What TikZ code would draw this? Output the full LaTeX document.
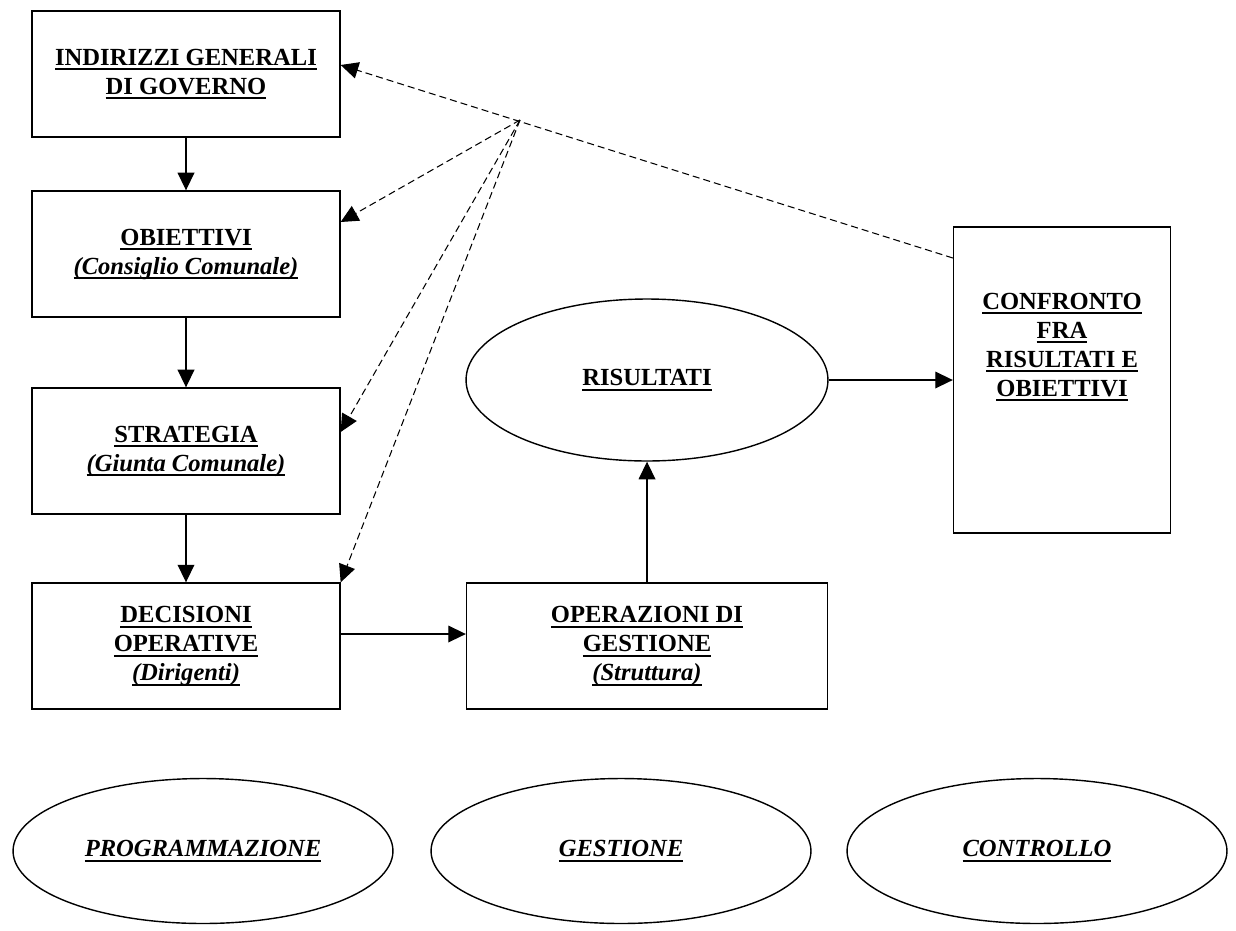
\documentclass[tikz,border=0pt]{standalone}
\usepackage{fontspec}
\setmainfont{Liberation Serif}
\usetikzlibrary{arrows.meta,shapes.geometric}

\newcommand{\titfont}{\fontsize{14}{16.5}\selectfont\bfseries}
\newsavebox{\sottbox}
\newcommand{\sott}[1]{\sbox{\sottbox}{#1}\rlap{\rule[-3pt]{\wd\sottbox}{1.2pt}}\usebox{\sottbox}}

\tikzset{
  box/.style={draw, line width=0.8pt, minimum width=6.16cm, minimum height=2.52cm, align=center, font=\titfont},
  ovale/.style={draw, ellipse, inner sep=0pt, line width=0.8pt, align=center, font=\titfont},
  fase/.style={ovale, minimum width=7.6cm, minimum height=2.9cm, font=\titfont\itshape},
  titolo/.style={align=center, font=\titfont},
  freccia/.style={->, line width=0.7pt},
  ritorno/.style={->, line width=0.6pt, dash pattern=on 4pt off 2.3pt}
}

\begin{document}
\begin{tikzpicture}[x=0.02cm, y=-0.02cm, >={Triangle[length=10pt,width=9.5pt]}]
	\useasboundingbox (0,0) rectangle (1236,930);
	% programmazione
	\node[box] (indirizzi) at (186,74) {\sott{INDIRIZZI GENERALI}\\\sott{DI GOVERNO}};
	\node[box] (obiettivi) at (186,254) {\sott{OBIETTIVI}\\\sott{\itshape (Consiglio Comunale)}};
	\node[box] (strategia) at (186,451) {\sott{STRATEGIA}\\\sott{\itshape (Giunta Comunale)}};
	\node[box] (decisioni) at (186,646) {\sott{DECISIONI}\\\sott{OPERATIVE}\\\sott{\itshape (Dirigenti)}};
	% gestione e controllo
	\node[box, minimum width=7.22cm] (operazioni) at (647,646) {\sott{OPERAZIONI DI}\\\sott{GESTIONE}\\\sott{\itshape (Struttura)}};
	\node[ovale, minimum width=7.24cm, minimum height=3.24cm] (risultati) at (647,380) {\sott{RISULTATI}};
	\node[box, minimum width=4.34cm, minimum height=6.12cm] (confronto) at (1062,380) {};
	\node[titolo] (confrtesto) at (1062,347) {\sott{CONFRONTO}\\\sott{FRA}\\\sott{RISULTATI E}\\\sott{OBIETTIVI}};
	% fasi
	\node[fase] (programmazione) at (203,851) {\sott{PROGRAMMAZIONE}};
	\node[fase] (gestione) at (621,851) {\sott{GESTIONE}};
	\node[fase] (controllo) at (1037,851) {\sott{CONTROLLO}};

	\draw[freccia] (indirizzi) -- (obiettivi);
	\draw[freccia] (obiettivi) -- (strategia);
	\draw[freccia] (strategia) -- (decisioni);
	\draw[freccia] (decisioni.east |- 0,634) -- (operazioni.west |- 0,634);
	\draw[freccia] (operazioni) -- (risultati);
	\draw[freccia] (risultati) -- (confronto);

	\coordinate (snodo) at (520,120);
	\draw[ritorno] (confronto.west |- 0,258) -- (indirizzi.east |- 0,65);
	\draw[ritorno] (snodo) -- (obiettivi.east |- 0,222);
	\draw[ritorno] (snodo) -- (strategia.east |- 0,432);
	\draw[ritorno] (snodo) -- (decisioni.north east);
\end{tikzpicture}
\end{document}
